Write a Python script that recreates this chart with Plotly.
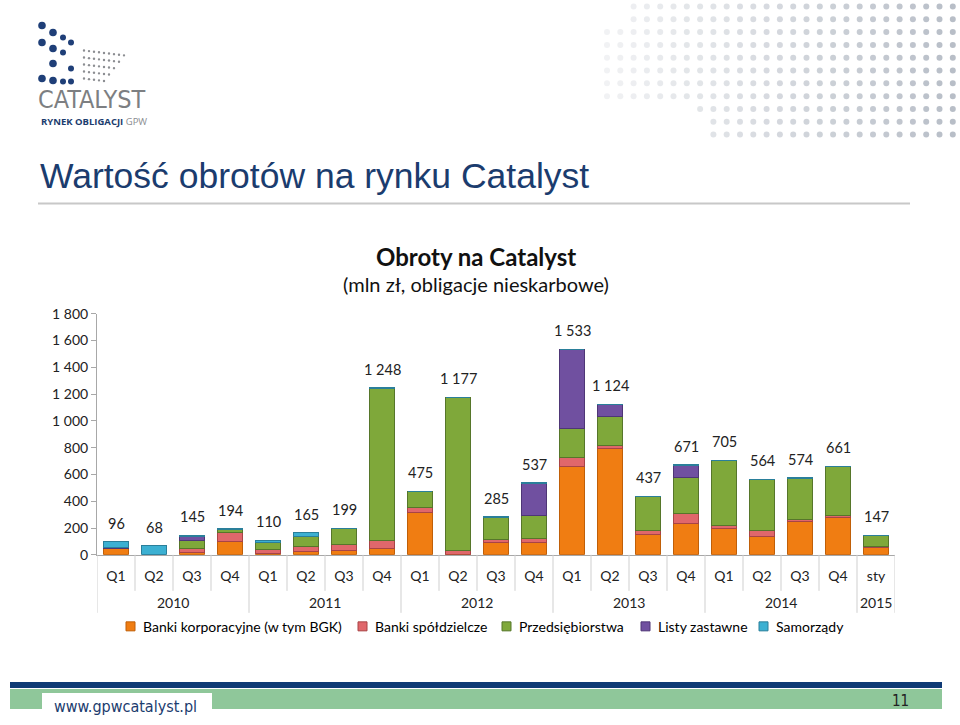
import plotly.graph_objects as go

W, H = 960, 725

years = ["2010"] * 4 + ["2011"] * 4 + ["2012"] * 4 + ["2013"] * 4 + ["2014"] * 4 + ["2015"]
quarters = ["Q1", "Q2", "Q3", "Q4"] * 5 + ["sty"]

totals = [96, 68, 145, 194, 110, 165, 199, 1248, 475, 1177, 285, 537,
          1533, 1124, 437, 671, 705, 564, 574, 661, 147]

banki_korp = [45, 0, 15, 100, 12, 25, 35, 45, 315, 5, 90, 95,
              660, 790, 150, 235, 195, 140, 245, 275, 55]
banki_spoldz = [3, 0, 30, 70, 25, 40, 45, 60, 35, 30, 25, 25,
                65, 25, 30, 70, 25, 38, 22, 18, 10]
przedsiebiorstwa = [0, 0, 65, 22, 55, 70, 114, 1140, 125, 1142, 165, 170,
                    218, 215, 252, 272, 483, 384, 305, 366, 80]
listy_zastawne = [8, 0, 30, 0, 0, 0, 0, 0, 0, 0, 0, 245,
                  590, 92, 0, 92, 0, 0, 0, 0, 0]
samorzady = [40, 68, 5, 2, 18, 30, 5, 3, 0, 0, 5, 2,
             0, 2, 5, 2, 2, 2, 2, 2, 2]

series = [
    ("Banki korporacyjne (w tym BGK)", banki_korp, "#F07D12", "#C05F08"),
    ("Banki spółdzielcze", banki_spoldz, "#E0676B", "#A84446"),
    ("Przedsiębiorstwa", przedsiebiorstwa, "#7FA83A", "#56762A"),
    ("Listy zastawne", listy_zastawne, "#7050A0", "#4E3676"),
    ("Samorządy", samorzady, "#3CB0D2", "#2A7F9A"),
]

FONT = "Lato"
NARROW = "DejaVu Sans Condensed, Liberation Sans"
NAVY = "#1B3C6E"
GRID = "#cfcfcf"

# the captured page comes out slightly squeezed vertically; compensate
Y_OFF, Y_SCALE = 8.5, 0.976


def fy(y):
    return (y - Y_OFF) / Y_SCALE


def px(x, y):
    # target pixel position -> paper coordinates (margins are zero)
    return x / W, 1 - fy(y) / H


xs = list(range(len(quarters)))

fig = go.Figure()
for name, vals, col, edge in series:
    fig.add_trace(go.Bar(
        x=xs, y=vals, name=name,
        marker=dict(color=col, line=dict(color=edge, width=1)),
        width=0.64, showlegend=False,
    ))

annotations = []
shapes = []


def text(x, y, s, size, color="#111", family=FONT, xanchor="center"):
    a, b = px(x, y)
    annotations.append(dict(x=a, y=b, xref="paper", yref="paper", showarrow=False,
                            xanchor=xanchor, yanchor="middle", text=s,
                            font=dict(family=family, size=size, color=color)))


def rect(x0, y0, x1, y1, color):
    a, b = px(x0, y0)
    c, d = px(x1, y1)
    shapes.append(dict(type="rect", xref="paper", yref="paper", x0=a, y0=b, x1=c, y1=d,
                       fillcolor=color, line=dict(width=0), layer="below"))


def dot(x, y, r, color):
    a, b = px(x - r, y - r)
    c, d = px(x + r, y + r)
    shapes.append(dict(type="circle", xref="paper", yref="paper", x0=a, y0=b, x1=c, y1=d,
                       fillcolor=color, line=dict(width=0), layer="below"))


# totals above the bars
for i, t in zip(xs, totals):
    annotations.append(dict(
        x=i, y=t, xref="x", yref="y", yshift=18 / Y_SCALE, xanchor="center", yanchor="middle",
        text=f"{t:,}".replace(",", " "), showarrow=False,
        font=dict(family=FONT, size=14.5, color="#222"),
    ))

# category separators and year labels
y_axis0 = px(0, 554)[1]
for i in xs + [len(xs)]:
    new_group = i == 0 or i == len(xs) or years[i] != years[i - 1]
    bottom = 612 if new_group else 590
    shapes.append(dict(type="line", xref="x", yref="paper", x0=i - 0.5, x1=i - 0.5,
                       y0=y_axis0, y1=px(0, bottom)[1], line=dict(color=GRID, width=1)))
groups = []
for i, yr in enumerate(years):
    if not groups or groups[-1][0] != yr:
        groups.append([yr, i, i])
    else:
        groups[-1][2] = i
for yr, first, last in groups:
    annotations.append(dict(x=(first + last) / 2, y=px(0, 602)[1], xref="x", yref="paper",
                            showarrow=False, xanchor="center", yanchor="middle", text=yr,
                            font=dict(family=FONT, size=14, color="#222")))

# manual legend
legend_x = [130, 362, 506, 645, 763]
for (name, vals, col, edge), lx in zip(series, legend_x):
    rect(lx - 4, 621, lx + 5, 630, col)
    shapes[-1]["line"] = dict(color=edge, width=1)
    shapes[-1]["layer"] = "above"
    text(lx + 11, 625.5, name, 14, "#000", xanchor="left")

# titles
text(476, 256, "<b>Obroty na Catalyst</b>", 24)
text(476, 283, "(mln zł, obligacje nieskarbowe)", 20)
text(38, 175, "Wartość obrotów na rynku Catalyst", 35.5, NAVY, "Liberation Sans", "left")

# logo
text(36, 99, "CATALYST", 25, "#7d7f82", NARROW, "left")
text(39, 121, "<b>RYNEK OBLIGACJI</b> <span style='color:#8a8c90'>GPW</span>",
     9.5, NAVY, "Open Sans", "left")
logo_big = [(42, 25), (53, 32), (63, 37), (71, 42), (42, 42), (53, 48), (63, 52),
            (53, 63), (71, 68), (42, 78), (53, 80), (63, 81), (71, 81)]
for x, y in logo_big:
    dot(x, y, 3.8 if x < 60 else 3.0, "#1F3F78")
for row in range(5):
    for col in range(9 - row):
        dot(84 + col * 5, 50 + row * 7 + col * 0.6, 1.2, "#8c8e92")

# footer
rect(10, 681, 942, 687, "#0F3A75")
rect(10, 688, 942, 708, "#8FC79A")
rect(42, 692, 212, 725, "#ffffff")
text(125, 706, "www.gpwcatalyst.pl", 16, NAVY, NARROW)
text(900, 700, "11", 15, "#222", NARROW)

# title underline
rect(38, 202, 910, 204, "#c8c8c8")

# decorative dot field top right
row_start = [627, 627, 607, 607, 607, 607, 607, 607, 700, 710, 705]
for row, x_start in enumerate(row_start):
    for col in range(27):
        x = 607 + col * 13.3
        if x < x_start - 1 or x > 958:
            continue
        y = 6 + row * 12.8
        alpha = 0.12 + 0.5 * (col / 26)
        dot(x, y, 3, f"rgba(140,150,165,{alpha:.2f})")

fig.update_layout(
    width=W, height=H,
    barmode="stack",
    separators=", ",
    margin=dict(l=0, r=0, t=0, b=0),
    paper_bgcolor="white", plot_bgcolor="white",
    font=dict(family=FONT, size=14, color="#222"),
    showlegend=False,
    xaxis=dict(
        domain=[97 / W, 895 / W],
        range=[-0.5, len(xs) - 0.5],
        tickvals=xs, ticktext=quarters,
        showline=True, linecolor="#a8a8a8",
        ticks="", ticklabelstandoff=8,
        showgrid=False, zeroline=False,
        tickfont=dict(family=FONT, size=14, color="#222"),
    ),
    yaxis=dict(
        domain=[y_axis0, px(0, 313)[1]],
        range=[0, 1800], dtick=200, tickformat=",d",
        showgrid=False, showline=True, linecolor="#a8a8a8",
        ticks="outside", ticklen=5, tickcolor="#a8a8a8",
        tickfont=dict(family=FONT, size=14, color="#222"),
        zeroline=False,
    ),
    annotations=annotations,
    shapes=shapes,
)

# pin the figure to the top-left corner of the window
pin = (
    "document.documentElement.style.margin='0';"
    "document.body.style.margin='0';"
    "document.documentElement.style.overflow='hidden';"
    "document.body.style.overflow='hidden';"
    "var gd=document.getElementById('{plot_id}');"
    "gd.style.position='fixed';gd.style.top='0px';gd.style.left='0px';"
)
fig.write_html("out.html", config={"displayModeBar": False}, post_script=pin)
